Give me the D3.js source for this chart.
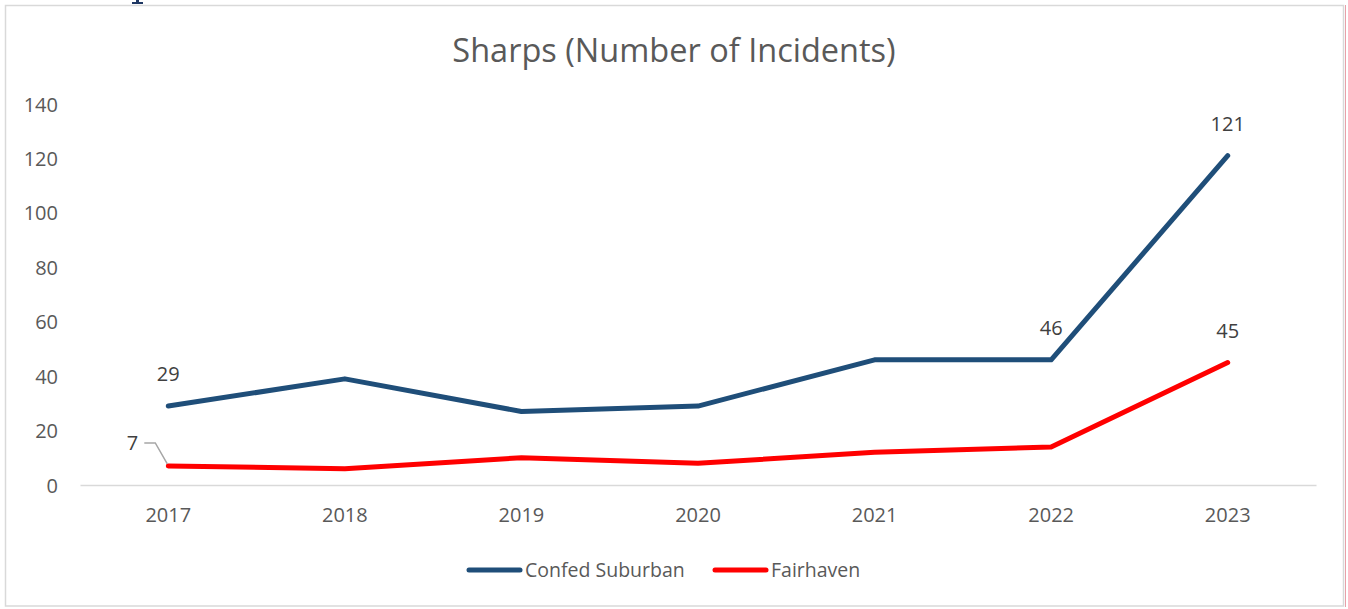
<!DOCTYPE html>
<html>
<head>
<meta charset="utf-8">
<script src="https://cdnjs.cloudflare.com/ajax/libs/d3/7.8.5/d3.min.js"></script>
<style>
  body { margin: 0; background: #fff; }
  svg text { font-family: "Open Sans", "Noto Sans", sans-serif; }
</style>
</head>
<body>
<div id="chart"></div>
<script>
var years = ["2017", "2018", "2019", "2020", "2021", "2022", "2023"];
var confed = [29, 39, 27, 29, 46, 46, 121];
var fairhaven = [7, 6, 10, 8, 12, 14, 45];
var yTicks = [0, 20, 40, 60, 80, 100, 120, 140];
var seriesNames = ["Confed Suburban", "Fairhaven"];
var seriesColors = ["#1f4e79", "#ff0000"];

var W = 1348, H = 609;
var margin = { left: 80, right: 32, top: 104, bottom: 124 };

var svg = d3.select("#chart").append("svg").attr("width", W).attr("height", H);

// bottom of a heading glyph cut off above the frame
svg.append("path").attr("d", "M132,4H143V2H139V0H136V2H132Z").attr("fill", "#1f3864");

// chart frame
svg.append("rect").attr("x", 5.5).attr("y", 5.5).attr("width", 1338).attr("height", 600.5)
  .attr("fill", "none").attr("stroke", "#d9d9d9").attr("stroke-width", 1.5);
svg.append("line").attr("x1", 1345.5).attr("x2", 1345.5).attr("y1", 5).attr("y2", 607)
  .attr("stroke", "#e8a0a8").attr("stroke-width", 1);

var x = d3.scaleBand().domain(years).range([margin.left, W - margin.right]);
var y = d3.scaleLinear().domain([0, 140]).range([485, 104]);

var g = svg.append("g");

// title
svg.append("text").attr("x", 674).attr("y", 62).attr("text-anchor", "middle")
  .style("font-size", "32.5px").attr("fill", "#595959").text("Sharps (Number of Incidents)");

// y axis labels
var yAxis = d3.axisLeft(y).tickValues(yTicks).tickSize(0).tickPadding(22);
var ya = g.append("g").attr("transform", "translate(" + margin.left + ",0)").call(yAxis);
ya.select(".domain").remove();
ya.selectAll("text").style("font-size", "20px").attr("fill", "#595959")
  .style("font-family", "'Open Sans', sans-serif").attr("dy", "0.35em");

// x axis
var xAxis = d3.axisBottom(x).tickSize(0).tickPadding(23);
var xa = g.append("g").attr("transform", "translate(0," + y(0) + ")").call(xAxis);
xa.select(".domain").attr("stroke", "#d9d9d9").attr("stroke-width", 1.5);
xa.selectAll("text").style("font-size", "20px").attr("fill", "#595959")
  .style("font-family", "'Open Sans', sans-serif");

var line = d3.line()
  .x(function (d, i) { return x(years[i]) + x.bandwidth() / 2; })
  .y(function (d) { return y(d); });

[confed, fairhaven].forEach(function (s, k) {
  g.append("path").datum(s).attr("d", line)
    .attr("fill", "none").attr("stroke", seriesColors[k]).attr("stroke-width", 5)
    .attr("stroke-linecap", "round").attr("stroke-linejoin", "round");
});

function cx(i) { return x(years[i]) + x.bandwidth() / 2; }

// data labels: [series, index, dx, dy]
var labels = [
  [confed, 0, 0, -25], [confed, 5, 0, -25], [confed, 6, 0, -25],
  [fairhaven, 6, 0, -25]
];
labels.forEach(function (l) {
  var s = l[0], i = l[1];
  g.append("text").attr("x", cx(i) + l[2]).attr("y", y(s[i]) + l[3])
    .attr("text-anchor", "middle").style("font-size", "20px").attr("fill", "#404040")
    .text(s[i]);
});

// leader label for first Fairhaven point
var lx = cx(0), ly = y(fairhaven[0]);
g.append("path")
  .attr("d", "M" + (lx - 24) + "," + (ly - 23) + "H" + (lx - 13) + "L" + (lx - 1) + "," + (ly - 2))
  .attr("fill", "none").attr("stroke", "#a6a6a6").attr("stroke-width", 1.5);
g.append("text").attr("x", lx - 30).attr("y", ly - 16).attr("text-anchor", "end")
  .style("font-size", "20px").attr("fill", "#404040").text(fairhaven[0]);

// legend
var legendX = [468, 714];
seriesNames.forEach(function (n, k) {
  var lg = svg.append("g").attr("transform", "translate(" + legendX[k] + ",570)");
  lg.append("line").attr("x1", 1).attr("x2", 52).attr("y1", 0).attr("y2", 0)
    .attr("stroke", seriesColors[k]).attr("stroke-width", 5).attr("stroke-linecap", "round");
  lg.append("text").attr("x", 57).attr("y", 7).style("font-size", "19.5px")
    .attr("fill", "#595959").text(n);
});
</script>
</body>
</html>
